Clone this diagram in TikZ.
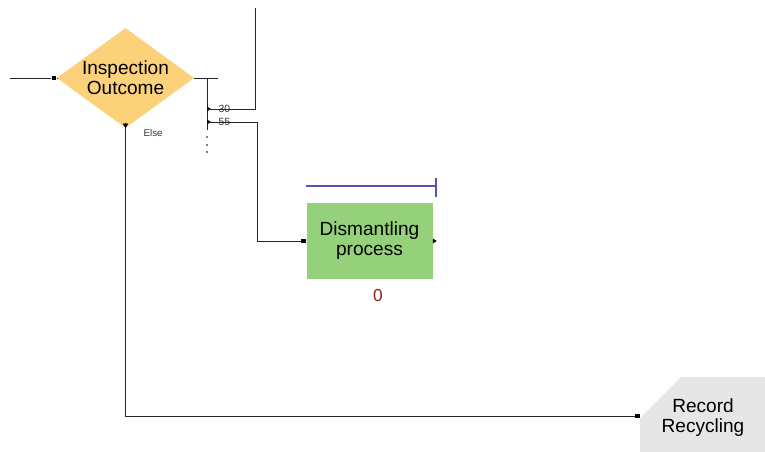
\documentclass[tikz,border=0pt]{standalone}
\usepackage{fontspec}
\setmainfont{Liberation Sans}
\usepackage{tikz}
\usetikzlibrary{arrows.meta, positioning, shapes.geometric, shapes.misc, calc}

\definecolor{decfill}{HTML}{FBD27A}
\definecolor{actfill}{HTML}{94D17A}
\definecolor{recfill}{HTML}{E6E6E6}
\definecolor{barblue}{HTML}{5555AA}
\definecolor{cntred}{HTML}{8B2020}

\begin{document}
\begin{tikzpicture}[x=0.75pt, y=-0.75pt,
  decision/.style={diamond, aspect=1.37, fill=decfill, minimum width=103pt, minimum height=75pt, inner sep=0pt, align=center, font=\fontsize{14.3}{15}\selectfont},
  activity/.style={rectangle, fill=actfill, minimum width=94.5pt, minimum height=57pt, align=center, font=\fontsize{14.3}{15}\selectfont},
  record/.style={chamfered rectangle, chamfered rectangle corners=north west, chamfered rectangle xsep=16.5pt, chamfered rectangle ysep=16.5pt, fill=recfill, minimum width=94.5pt, minimum height=58.5pt, inner sep=0pt, align=center, font=\fontsize{14.3}{15}\selectfont},
  port/.style={rectangle, fill=black, minimum size=3.5pt, inner sep=0pt},
  conn/.style={draw=black!85, line width=0.7pt},
  tipR/.style={-{Triangle[length=3pt,width=3.5pt]}, black},
  lbl/.style={font=\fontsize{7.8}{8}\selectfont, text=black!80, inner sep=1pt}
]
\useasboundingbox (0,0) rectangle (765,452);

% Decision
\node[decision] (insp) at (125.5,78) {Inspection\\Outcome};
\node[port] (inspin) at (54,78) {};
\coordinate (src) at (10,78);
\draw[conn] (src) -- (inspin) -- (insp.west);
\draw[-{Triangle[length=3.5pt,width=4pt]}, black] (insp.south) ++(0,-5) -- (insp.south);

% Branch bus
\coordinate (bout) at (218,78);
\coordinate (bus) at (207,78);
\coordinate (busend) at (207,130);
\coordinate (b30) at (207,109);
\coordinate (b55) at (207,122);
\draw[conn] (insp.east) -- (bout);
\draw[conn] (bus) -- (busend);
\foreach \y in {137,145,152} \fill (207,\y) circle (0.7pt);
\draw[tipR] (b30) -- ++(4,0);
\draw[tipR] (b55) -- ++(4,0);
\node[lbl, anchor=west] at (217,109) {30};
\node[lbl, anchor=west] at (217,122) {55};
\node[lbl, font=\fontsize{7.3}{8}\selectfont, anchor=west] at (142,133) {Else};

% Activity
\node[activity] (dism) at (369.5,241) {Dismantling\\process};
\node[port] (dismin) at (303.5,241) {};
\draw[-{Triangle[length=3pt,width=3.5pt]}, black] (dism.east) -- ++(4,0);
\node[font=\fontsize{13}{14}\selectfont, text=cntred] (dismcnt) at (378,296) {0};
\draw[barblue, line width=0.8pt] (306,186) -- (436,186);
\draw[barblue, line width=0.8pt] (436,178) -- (436,197);

% 30 goes up, 55 goes to dismantling
\coordinate (up30) at (255,8);
\draw[conn] (b30) -- (b30 -| up30) -- (up30);
\coordinate (c55) at (257,122);
\draw[conn] (b55) -- (c55) |- (dismin);

% Record
\node[record] (rec) at (703,418) {Record\\Recycling};
\node[port] (recin) at (637.5,416) {};
\draw[conn] (insp.south) |- (recin);
\end{tikzpicture}
\end{document}
